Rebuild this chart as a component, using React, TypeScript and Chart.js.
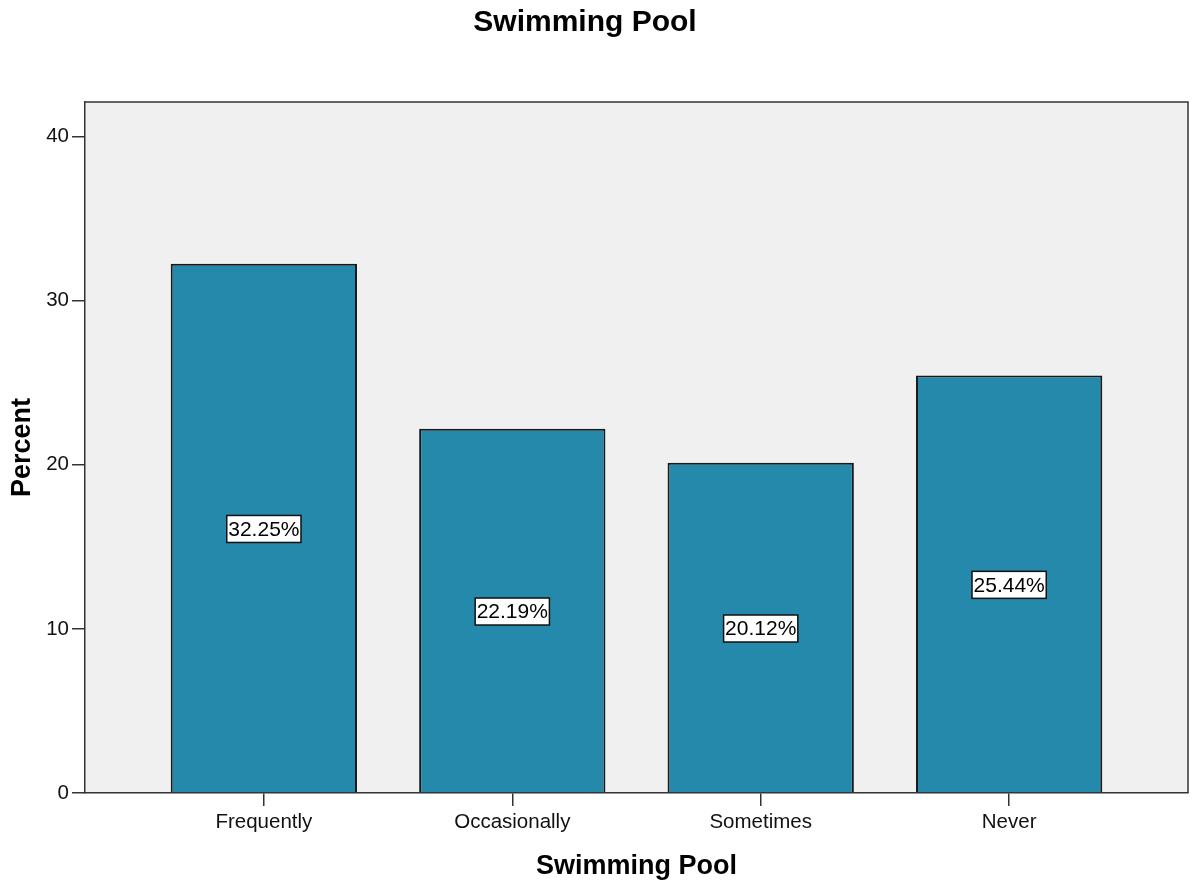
import React, { useEffect, useRef } from "react";
import { Chart, registerables } from "chart.js";

Chart.register(...registerables);

const categories = ["Frequently", "Occasionally", "Sometimes", "Never"];
const percentValues = [32.25, 22.19, 20.12, 25.44];
const yTickValues = [0, 10, 20, 30, 40];
const chartTitle = "Swimming Pool";
const xAxisTitle = "Swimming Pool";
const yAxisTitle = "Percent";

const FONT = "'Liberation Sans', Arial, Helvetica, sans-serif";

export default function App() {
  const canvasRef = useRef<HTMLCanvasElement | null>(null);

  useEffect(() => {
    if (!canvasRef.current) return;

    const backgroundPlugin = {
      id: "plotBackground",
      beforeDraw(chart: any) {
        const { ctx, chartArea } = chart;
        ctx.save();
        ctx.fillStyle = "#f0f0f0";
        ctx.fillRect(chartArea.left, chartArea.top, chartArea.right - chartArea.left, chartArea.bottom - chartArea.top);
        ctx.restore();
      },
      afterDraw(chart: any) {
        const { ctx, chartArea } = chart;
        ctx.save();
        ctx.strokeStyle = "#333333";
        ctx.lineWidth = 1.5;
        ctx.beginPath();
        ctx.moveTo(chartArea.left, chartArea.top);
        ctx.lineTo(chartArea.right, chartArea.top);
        ctx.lineTo(chartArea.right, chartArea.bottom);
        ctx.stroke();
        ctx.fillStyle = "#000";
        ctx.font = `bold 30px ${FONT}`;
        ctx.textAlign = "center";
        ctx.textBaseline = "middle";
        ctx.fillText(chartTitle, 585, 23);
        ctx.restore();
      },
    };

    const labelPlugin = {
      id: "barLabels",
      afterDatasetsDraw(chart: any) {
        const { ctx } = chart;
        const meta = chart.getDatasetMeta(0);
        ctx.save();
        ctx.font = `21px ${FONT}`;
        ctx.textAlign = "center";
        ctx.textBaseline = "middle";
        meta.data.forEach((bar: any, i: number) => {
          const text = percentValues[i].toFixed(2) + "%";
          const cx = bar.x;
          const cy = (bar.y + bar.base) / 2 + 1;
          const w = ctx.measureText(text).width + 3;
          const h = 27;
          ctx.fillStyle = "#ffffff";
          ctx.fillRect(cx - w / 2, cy - h / 2, w, h);
          ctx.strokeStyle = "#111111";
          ctx.lineWidth = 1.5;
          ctx.strokeRect(cx - w / 2, cy - h / 2, w, h);
          ctx.fillStyle = "#000000";
          ctx.fillText(text, cx, cy + 1);
        });
        ctx.restore();
      },
    };

    const chart = new Chart(canvasRef.current, {
      type: "bar",
      data: {
        datasets: [
          {
            label: yAxisTitle,
            data: percentValues.map((v, i) => ({ x: i, y: v })),
            backgroundColor: "#2589ab",
            borderColor: "#1a1a1a",
            borderWidth: 2,
            barPercentage: 0.75,
            categoryPercentage: 1,
          },
        ],
      },
      options: {
        animation: false,
        responsive: true,
        maintainAspectRatio: false,
        layout: { padding: { top: 102, right: 5, left: 0, bottom: 0 } },
        plugins: {
          legend: { display: false },
          title: { display: false },
          tooltip: { enabled: false },
        },
        scales: {
          x: {
            type: "linear",
            min: -0.72,
            max: 3.72,
            offset: false,
            afterBuildTicks(scale: any) {
              scale.ticks = categories.map((_, i) => ({ value: i }));
            },
            afterFit(scale: any) {
              scale.height = 93;
            },
            grid: {
              offset: false,
              drawOnChartArea: false,
              drawTicks: true,
              tickLength: 13,
              color: "#333333",
              lineWidth: 1.5,
            },
            border: { display: true, color: "#333333", width: 1.5 },
            ticks: {
              padding: 4,
              color: "#111111",
              font: { family: FONT, size: 20.5 },
              maxRotation: 0,
              autoSkip: false,
              callback: (v: any) => categories[Number(v)] ?? "",
            },
            title: {
              display: true,
              text: xAxisTitle,
              color: "#000",
              font: { family: FONT, size: 27, weight: "bold" },
              padding: { top: 0, bottom: 3 },
            },
          },
          y: {
            type: "linear",
            min: 0,
            max: 42.1,
            afterBuildTicks(scale: any) {
              scale.ticks = yTickValues.map((v) => ({ value: v }));
            },
            afterFit(scale: any) {
              scale.width = 85;
            },
            grid: {
              drawOnChartArea: false,
              drawTicks: true,
              tickLength: 13,
              color: "#333333",
              lineWidth: 1.5,
            },
            border: { display: true, color: "#333333", width: 1.5 },
            ticks: {
              padding: 3,
              color: "#111111",
              font: { family: FONT, size: 20.5 },
            },
            title: {
              display: true,
              text: yAxisTitle,
              color: "#000",
              font: { family: FONT, size: 27, weight: "bold" },
              padding: { top: 6, bottom: 0 },
            },
          },
        },
      } as any,
      plugins: [backgroundPlugin, labelPlugin],
    });

    return () => chart.destroy();
  }, []);

  return (
    <div style={{ position: "absolute", left: 0, top: 0, width: 1193, height: 886, background: "#fff" }}>
      <canvas ref={canvasRef} />
    </div>
  );
}
